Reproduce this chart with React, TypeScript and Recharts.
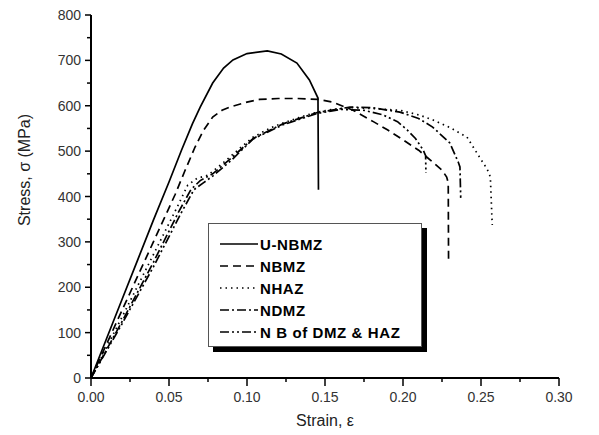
import React from "react";
import { LineChart, Line, XAxis, YAxis, Label } from "recharts";

// strain / stress pairs
const uNbmzStrain = [0, 0.01, 0.02, 0.03, 0.04, 0.05, 0.058, 0.065, 0.07, 0.078, 0.085, 0.091, 0.1, 0.113, 0.122, 0.132, 0.14, 0.1455, 0.1458];
const uNbmzStress = [0, 87, 174, 261, 348, 432, 502, 560, 597, 650, 683, 701, 715, 721, 714, 694, 657, 617, 415];

const nbmzStrain = [0, 0.02, 0.04, 0.054, 0.06, 0.0667, 0.072, 0.078, 0.084, 0.089, 0.1, 0.108, 0.12, 0.132, 0.1455, 0.155, 0.168, 0.181, 0.19, 0.2, 0.21, 0.219, 0.225, 0.228, 0.229, 0.2292];
const nbmzStress = [0, 150, 300, 405, 455, 509, 545, 575, 590, 597, 608, 614, 616, 616, 614, 608, 590, 565, 547, 525, 502, 476, 458, 443, 430, 260];

const nhazStrain = [0, 0.02, 0.04, 0.055, 0.062, 0.068, 0.075, 0.085, 0.095, 0.104, 0.115, 0.123, 0.135, 0.145, 0.155, 0.166, 0.18, 0.198, 0.21, 0.219, 0.23, 0.241, 0.249, 0.254, 0.256, 0.2572];
const nhazStress = [0, 135, 272, 375, 425, 440, 447, 475, 505, 531, 551, 562, 576, 586, 592, 596, 594, 590, 580, 569, 552, 531, 487, 460, 443, 337];

const ndmzStrain = [0, 0.02, 0.04, 0.056, 0.064, 0.07, 0.078, 0.09, 0.104, 0.123, 0.145, 0.166, 0.18, 0.198, 0.21, 0.219, 0.23, 0.2355, 0.2365, 0.237];
const ndmzStress = [0, 125, 255, 365, 415, 435, 450, 485, 528, 560, 585, 597, 596, 586, 572, 553, 518, 475, 465, 397];

const nbStrain = [0, 0.02, 0.04, 0.058, 0.066, 0.072, 0.078, 0.09, 0.104, 0.123, 0.145, 0.16, 0.175, 0.187, 0.1965, 0.2026, 0.208, 0.213, 0.2145, 0.2147];
const nbStress = [0, 120, 245, 365, 415, 430, 445, 480, 527, 558, 583, 592, 590, 580, 565, 547, 528, 502, 490, 452];

const xTicks = [0, 0.025, 0.05, 0.075, 0.1, 0.125, 0.15, 0.175, 0.2, 0.225, 0.25, 0.275, 0.3];
const yTicks = [0, 50, 100, 150, 200, 250, 300, 350, 400, 450, 500, 550, 600, 650, 700, 750, 800];

const zip = (xs: number[], ys: number[]) => xs.map((x, i) => ({ x, y: ys[i] }));

const series = [
  { name: "U-NBMZ", data: zip(uNbmzStrain, uNbmzStress), dash: undefined },
  { name: "NBMZ", data: zip(nbmzStrain, nbmzStress), dash: "8 5" },
  { name: "NHAZ", data: zip(nhazStrain, nhazStress), dash: "1.5 4" },
  { name: "NDMZ", data: zip(ndmzStrain, ndmzStress), dash: "9 3 2 3" },
  { name: "N B of DMZ & HAZ", data: zip(nbStrain, nbStress), dash: "9 3 2 3 2 3" },
];

const FONT = "'Liberation Sans', Arial, sans-serif";

function YTick(props: any) {
  const { x, y, payload } = props;
  const major = payload.value % 100 === 0;
  return (
    <g>
      <line x1={x} x2={x - (major ? 6 : 4)} y1={y} y2={y} stroke="#000" strokeWidth={1.5} />
      {major && (
        <text x={x - 10} y={y} dy={5} textAnchor="end" fontSize={14} fontFamily={FONT} fill="#333">
          {payload.value}
        </text>
      )}
    </g>
  );
}

function XTick(props: any) {
  const { x, y, payload } = props;
  const major = Math.round(payload.value * 1000) % 50 === 0;
  return (
    <g>
      <line x1={x} x2={x} y1={y} y2={y + (major ? 8 : 4)} stroke="#000" strokeWidth={1.5} />
      {major && (
        <text x={x} y={y + 24} textAnchor="middle" fontSize={14} fontFamily={FONT} fill="#333">
          {payload.value.toFixed(2)}
        </text>
      )}
    </g>
  );
}

function LegendBox() {
  return (
    <div
      style={{
        position: "absolute",
        left: 208,
        top: 223,
        width: 214,
        height: 124,
        border: "1px solid #555",
        boxShadow: "5px 5px 0 #000",
        background: "#fff",
        boxSizing: "border-box",
        paddingTop: 9,
      }}
    >
      {series.map((s) => (
        <div key={s.name} style={{ display: "flex", alignItems: "center", height: 22, paddingLeft: 11 }}>
          <svg width="40" height="4" aria-hidden="true">
            <line x1="0" y1="2" x2="38" y2="2" stroke="#000" strokeWidth="1.6" strokeDasharray={s.dash} />
          </svg>
          <span style={{ fontFamily: FONT, fontWeight: "bold", fontSize: 15, letterSpacing: 0.6, color: "#000" }}>
            {s.name}
          </span>
        </div>
      ))}
    </div>
  );
}

export default function App() {
  return (
    <div style={{ position: "absolute", left: 0, top: 0, width: 599, height: 435, background: "#fff" }}>
      <LineChart width={599} height={435} margin={{ top: 15, right: 40, left: 0, bottom: 0 }}>
        <XAxis
          dataKey="x"
          type="number"
          domain={[0, 0.3]}
          ticks={xTicks}
          interval={0}
          height={57}
          tickSize={0}
          tickMargin={0}
          tickLine={false}
          tick={<XTick />}
          axisLine={{ stroke: "#000", strokeWidth: 2 }}
          allowDataOverflow
        >
          <Label
            content={() => (
              <text x={325} y={426} textAnchor="middle" fontSize={16} fontFamily={FONT} fill="#222">
                Strain, ε
              </text>
            )}
          />
        </XAxis>
        <YAxis
          type="number"
          domain={[0, 800]}
          ticks={yTicks}
          interval={0}
          width={91}
          tickSize={0}
          tickMargin={0}
          tickLine={false}
          tick={<YTick />}
          axisLine={{ stroke: "#000", strokeWidth: 2 }}
          allowDataOverflow
        >
          <Label
            content={() => (
              <text
                x={30}
                y={170}
                transform="rotate(-90 30 170)"
                textAnchor="middle"
                fontSize={16}
                fontFamily={FONT}
                fill="#222"
              >
                Stress, σ (MPa)
              </text>
            )}
          />
        </YAxis>
        {series.map((s) => (
          <Line
            key={s.name}
            data={s.data}
            dataKey="y"
            name={s.name}
            type="linear"
            stroke="#000"
            strokeWidth={1.7}
            strokeDasharray={s.dash}
            dot={false}
            activeDot={false}
            isAnimationActive={false}
          />
        ))}
      </LineChart>
      <LegendBox />
    </div>
  );
}
